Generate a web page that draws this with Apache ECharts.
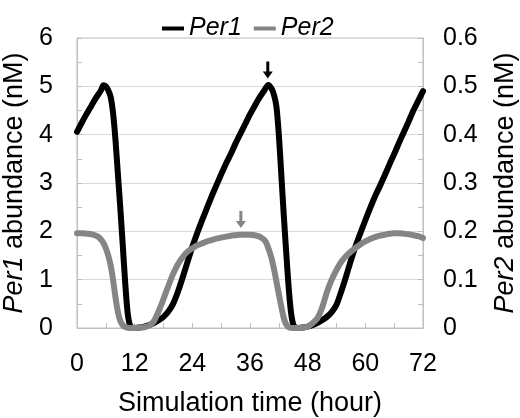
<!DOCTYPE html>
<html>
<head>
<meta charset="utf-8">
<script src="https://cdn.jsdelivr.net/npm/echarts@6/dist/echarts.min.js"></script>
<style>
  html, body { margin: 0; padding: 0; background: #fff; }
  #chart { width: 520px; height: 418px; }
</style>
</head>
<body>
<div id="chart"></div>
<script>
// ---- data ----
const xTicks = [0, 12, 24, 36, 48, 60, 72];
const per1Time = [0,1,2,3,4,5,5.5,6,6.5,7,7.5,8,8.5,9,9.5,10,10.5,11,11.5,12,13,14,15,16,17,18,19,20,21,22,23,24,25,26,27,28,29,30,31,32,33,34,35,36,37,38,39,39.8,40.5,41,41.5,42,42.5,43,43.5,44,44.5,45,45.5,46,47,48,49,50,51,52,53,54,55,56,57,58,59,60,61,62,63,64,65,66,67,68,69,70,71,72];
const per1Value = [4.06,4.25,4.43,4.6,4.77,4.92,5.02,5.0,4.92,4.78,4.45,3.9,3.2,2.5,1.75,0.98,0.35,0.06,0.01,0.0,0.01,0.03,0.06,0.1,0.16,0.23,0.34,0.5,0.75,1.05,1.37,1.68,1.96,2.22,2.47,2.72,2.95,3.18,3.4,3.6,3.82,4.02,4.22,4.42,4.6,4.77,4.92,5.03,4.95,4.82,4.58,4.0,3.2,2.38,1.62,0.9,0.35,0.07,0.01,0.0,0.01,0.03,0.06,0.1,0.16,0.23,0.33,0.48,0.76,1.07,1.4,1.7,1.97,2.23,2.48,2.72,2.93,3.15,3.38,3.6,3.83,4.05,4.27,4.5,4.7,4.9];
const per2Time = [0,1,2,3,4,4.5,5,5.5,6,6.5,7,7.5,8,8.5,9,9.5,10,11,12,13,14,15,16,17,18,19,20,21,22,23,24,25,26,27,28,29,30,31,32,33,34,35,36,37,38,38.5,39,39.5,40,40.5,41,41.5,42,42.5,43,43.5,44,45,46,47,48,49,50,51,52,53,54,55,56,57,58,59,60,61,62,63,64,65,66,67,68,69,70,71,72];
const per2Value = [0.196,0.196,0.195,0.194,0.191,0.188,0.183,0.176,0.165,0.15,0.13,0.1,0.064,0.034,0.015,0.006,0.002,0.0,0.0,0.0003,0.0015,0.005,0.014,0.035,0.06,0.087,0.112,0.132,0.147,0.158,0.165,0.171,0.175,0.179,0.182,0.185,0.187,0.189,0.191,0.192,0.193,0.193,0.193,0.192,0.189,0.186,0.182,0.174,0.16,0.144,0.122,0.096,0.07,0.045,0.022,0.008,0.002,0.0,0.0,0.0005,0.003,0.01,0.02,0.042,0.074,0.1,0.12,0.137,0.149,0.158,0.166,0.173,0.179,0.184,0.188,0.191,0.193,0.195,0.196,0.196,0.195,0.194,0.192,0.19,0.186];
const per1Arrow = [39.7, 5.16];   // arrow tip (hour, nM on left axis)
const per2Arrow = [34.1, 0.207];  // arrow tip (hour, nM on right axis)
const leftTicks = [0, 6, 1];
const rightTicks = [0, 0.6, 0.1];
const seriesNames = ['Per1', 'Per2'];

// ---- chart ----
const FONT = '"Liberation Sans", Arial, sans-serif';
const per1Data = per1Time.map((t, i) => [t, per1Value[i]]);
const per2Data = per2Time.map((t, i) => [t, per2Value[i]]);
const arrowPath = 'path://M3.5,0 L6.5,0 L6.5,10 L10,10 L5,17 L0,10 L3.5,10 Z';
const gridGray = '#d9d9d9';
const axisGray = '#bfbfbf';

const chart = echarts.init(document.getElementById('chart'), null, { renderer: 'canvas' });
chart.setOption({
  animation: false,
  backgroundColor: '#fff',
  textStyle: { fontFamily: FONT },
  legend: {
    data: seriesNames,
    left: 157, top: 11,
    itemWidth: 22, itemHeight: 4, itemGap: 12,
    icon: 'rect',
    textStyle: { fontSize: 25, fontStyle: 'italic', color: '#000', fontFamily: FONT }
  },
  grid: { left: 77, right: 97, top: 38, bottom: 90, containLabel: false, outerBoundsMode: 'none',
    show: true, borderColor: axisGray, borderWidth: 1 },
  xAxis: {
    type: 'value', min: xTicks[0], max: xTicks[xTicks.length - 1], interval: xTicks[1] - xTicks[0],
    name: 'Simulation time (hour)', nameLocation: 'middle', nameGap: 62,
    nameTextStyle: { fontSize: 27, color: '#000', fontFamily: FONT },
    axisLine: { lineStyle: { color: axisGray } },
    axisTick: { inside: true, length: 5, lineStyle: { color: axisGray } },
    minorTick: { show: true, splitNumber: 2, length: 5, lineStyle: { color: axisGray } },
    axisLabel: { fontSize: 25, color: '#000', margin: 24, fontFamily: FONT },
    splitLine: { show: false }
  },
  yAxis: [
    {
      type: 'value', min: leftTicks[0], max: leftTicks[1], interval: leftTicks[2], position: 'left',
      name: '{i|Per1} abundance (nM)', nameLocation: 'middle', nameGap: 42, nameRotate: 90,
      nameTextStyle: { fontSize: 27, color: '#000', fontFamily: FONT,
        rich: { i: { fontStyle: 'italic', fontSize: 27, color: '#000', fontFamily: FONT } } },
      axisLine: { show: true, lineStyle: { color: axisGray } },
      axisTick: { show: true, inside: true, length: 5, lineStyle: { color: axisGray } },
      minorTick: { show: true, splitNumber: 2, length: 5, lineStyle: { color: axisGray } },
      axisLabel: { fontSize: 25, color: '#000', margin: 24, fontFamily: FONT },
      splitLine: { show: true, lineStyle: { color: gridGray, width: 1 } }
    },
    {
      type: 'value', min: rightTicks[0], max: rightTicks[1], interval: rightTicks[2], position: 'right',
      name: '{i|Per2} abundance (nM)', nameLocation: 'middle', nameGap: 69, nameRotate: 90,
      nameTextStyle: { fontSize: 27, color: '#000', fontFamily: FONT,
        rich: { i: { fontStyle: 'italic', fontSize: 27, color: '#000', fontFamily: FONT } } },
      axisLine: { show: true, lineStyle: { color: axisGray } },
      axisTick: { show: true, inside: true, length: 5, lineStyle: { color: axisGray } },
      minorTick: { show: true, splitNumber: 2, length: 5, lineStyle: { color: axisGray } },
      axisLabel: { fontSize: 25, color: '#000', margin: 20, fontFamily: FONT,
        formatter: v => (v === 0 ? '0' : v.toFixed(1)) },
      splitLine: { show: false }
    }
  ],
  series: [
    {
      name: seriesNames[0], type: 'line', yAxisIndex: 0, data: per1Data,
      showSymbol: false, symbol: 'none', smooth: 0.25,
      color: '#000',
      lineStyle: { color: '#000', width: 6, join: 'round', cap: 'round' },
      markPoint: {
        symbol: arrowPath, symbolSize: [10, 17], symbolOffset: [0, '-50%'],
        itemStyle: { color: '#000' }, label: { show: false },
        data: [{ coord: per1Arrow }]
      },
      z: 2
    },
    {
      name: seriesNames[1], type: 'line', yAxisIndex: 1, data: per2Data,
      showSymbol: false, symbol: 'none', smooth: 0.25,
      color: '#858585',
      lineStyle: { color: '#858585', width: 6, join: 'round', cap: 'round' },
      markPoint: {
        symbol: arrowPath, symbolSize: [10, 17], symbolOffset: [0, '-50%'],
        itemStyle: { color: '#858585' }, label: { show: false },
        data: [{ coord: per2Arrow }]
      },
      z: 3
    }
  ]
});
</script>
</body>
</html>
